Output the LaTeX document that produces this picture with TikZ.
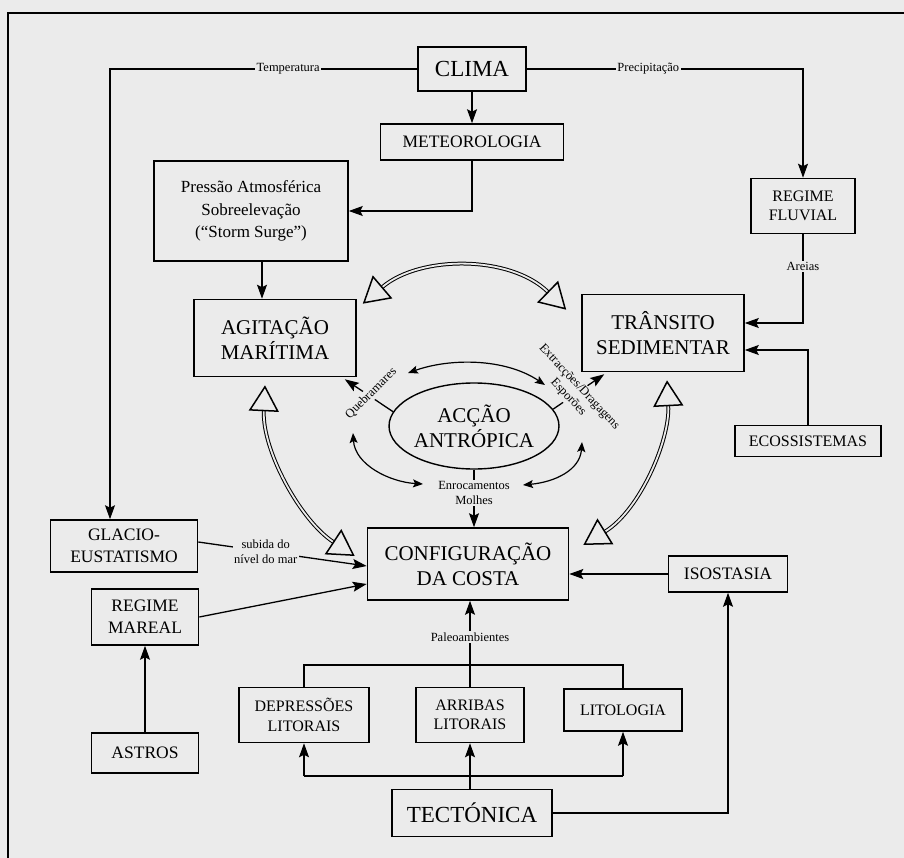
\documentclass[tikz,border=0pt]{standalone}
\usepackage{fontspec}
\setmainfont{Liberation Serif}
\usetikzlibrary{arrows.meta}
\usetikzlibrary{shapes.geometric}
\definecolor{paper}{gray}{0.92}

\begin{document}
\begin{tikzpicture} [x=1pt, y=-1pt, >={Stealth[length=14pt,width=10pt,inset=2.5pt]},
  box/.style={draw, line width=1.6pt, fill=paper, inner sep=0pt, align=center},
  fxl/.style={font=\fontsize{23}{26}\selectfont},
  fl/.style={font=\fontsize{21}{25}\selectfont},
  fm/.style={font=\fontsize{17.5}{22}\selectfont},
  fs/.style={font=\fontsize{16}{19.5}\selectfont},
  lbl/.style={fill=paper, inner sep=1.5pt, align=center, font=\fontsize{12.5}{15}\selectfont},
  conn/.style={line width=1.3pt},
  sm/.style={line width=1.2pt, >={Stealth[length=10pt,width=8pt,inset=2pt]}},
  hol/.style={double=paper, double distance=1.8pt, line width=1pt,
    arrows={Triangle[open,length=26pt,width=30pt,line width=1.5pt]-Triangle[open,length=26pt,width=30pt,line width=1.5pt]}}]
\useasboundingbox (0,0) rectangle (904,858);
\fill[paper] (0,0) rectangle (904,858);
\draw[line width=1.8pt] (8,858) -- (8,13) -- (904,13);

% boxes
\node[box, fxl, minimum width=108pt, minimum height=44pt] (clima) at (472,69) {CLIMA};
\node[box, fm, minimum width=183pt, minimum height=36pt] (meteo) at (472,142) {METEOROLOGIA};
\node[box, fm, minimum width=194pt, minimum height=100pt, font=\fontsize{17}{22.5}\selectfont] (pressao) at (251,211) {Pressão Atmosférica\\Sobreelevação\\(“Storm Surge”)};
\node[box, fs, minimum width=104pt, minimum height=55pt] (fluvial) at (803,206) {REGIME\\FLUVIAL};
\node[box, fl, minimum width=162pt, minimum height=77pt] (agitacao) at (275,338) {AGITAÇÃO\\MARÍTIMA};
\node[box, fl, minimum width=162pt, minimum height=77pt] (transito) at (663,333) {TRÂNSITO\\SEDIMENTAR};
\node[draw, ellipse, line width=1.4pt, fl, inner sep=0pt, align=center, minimum width=168pt, minimum height=86pt] (accao) at (474,426) {ACÇÃO\\ANTRÓPICA};
\node[box, fs, minimum width=146pt, minimum height=31pt] (ecoss) at (808,441) {ECOSSISTEMAS};
\node[box, fm, minimum width=147pt, minimum height=52pt] (glacio) at (124,546) {GLACIO-\\EUSTATISMO};
\node[box, fl, minimum width=201pt, minimum height=72pt] (config) at (468,564) {CONFIGURAÇÃO\\DA COSTA};
\node[box, fm, minimum width=119pt, minimum height=36pt] (isost) at (728,574) {ISOSTASIA};
\node[box, fm, minimum width=107pt, minimum height=56pt] (mareal) at (145,617) {REGIME\\MAREAL};
\node[box, fm, minimum width=107pt, minimum height=40pt] (astros) at (145,753) {ASTROS};
\node[box, fs, minimum width=130pt, minimum height=55pt] (depr) at (304,715) {DEPRESSÕES\\LITORAIS};
\node[box, fs, minimum width=108pt, minimum height=55pt] (arrib) at (470,715) {ARRIBAS\\LITORAIS};
\node[box, fs, minimum width=118pt, minimum height=42pt] (lito) at (623,710) {LITOLOGIA};
\node[box, fxl, minimum width=160pt, minimum height=47pt] (tecto) at (472,813) {TECTÓNICA};

% clima
\coordinate (tempx) at (110,69);
\draw[conn,->] (clima.west) -- node[lbl,pos=.42]{Temperatura} (clima.west -| tempx) -- (tempx |- glacio.north);
\draw[conn,->] (clima.east) -- node[lbl,pos=.44]{Precipitação} (clima.east -| fluvial.north) -- (fluvial.north);
\draw[conn,->] (clima) -- (meteo);
\draw[conn,->] (meteo.south) |- (pressao.east);
\draw[conn,->] ([xshift=11pt]pressao.south) -- ([xshift=11pt]pressao.south |- agitacao.north);

% transito sedimentar
\coordinate (tsa) at ([yshift=10pt]transito.east);
\coordinate (tsb) at ([yshift=-17pt]transito.east);
\draw[conn,->] (fluvial.south) -- node[lbl,pos=.36]{Areias} (fluvial.south |- tsa) -- (tsa);
\draw[conn,->] (ecoss.north) |- (tsb);

% configuracao
\draw[conn,->] ([yshift=4pt]glacio.east) -- node[lbl,pos=.4]{subida do\\nível do mar} ([yshift=-2pt]config.west);
\draw[conn,->] (mareal.east) -- ([yshift=-20pt]config.west);
\draw[conn,->] (isost.west) -- (isost.west -| config.east);
\draw[conn,->] (astros) -- (mareal);

\coordinate (bar) at (0,665);
\coordinate (tbar) at (0,776);
\draw[conn] (depr.north) -- (depr.north |- bar) -- (lito.north |- bar) -- (lito.north);
\draw[conn,->] (arrib.north) -- node[lbl,pos=.58]{Paleoambientes} (arrib.north |- config.south);
\draw[conn] (depr.south |- tbar) -- (lito.south |- tbar);
\foreach \n in {depr, lito} {
 \draw[conn,->] (\n.south |- tbar) -- (\n.south);
}
\draw[conn,->] (arrib.south |- tecto.north) -- (arrib.south);
\draw[conn,->] (tecto.east) -| (isost.south);

% accao antropica
\draw[conn,->] (accao.170) -- node[lbl,rotate=45,xshift=3pt]{Quebramares} ([xshift=-12pt,yshift=-2pt]agitacao.south east);
\draw[conn,->] (accao.12) -- node[lbl,rotate=-47,xshift=-3pt,yshift=-4pt]{Extracções/Dragagens\\Esporões} ([xshift=23pt,yshift=-2pt]transito.south west);
\draw[conn,->] (accao.south) -- node[lbl,pos=.4]{Enrocamentos\\Molhes} (accao.south |- config.north);

\coordinate (arcTL) at (408,373);
\coordinate (arcTR) at (545,385);
\coordinate (arcL) at (353,433);
\coordinate (arcBL) at (423,484);
\coordinate (arcR) at (582,442);
\coordinate (arcBR) at (523,485);
\draw[sm,<->] (arcTL) .. controls (450,358) and (505,358) .. (arcTR);
\draw[sm,<->] (arcL) .. controls (355,465) and (390,482) .. (arcBL);
\draw[sm,<->] (arcR) .. controls (580,470) and (555,482) .. (arcBR);

% interaccoes
\draw[hol] ([xshift=6pt,yshift=-5pt]agitacao.north east) .. controls (420,255) and (510,255) .. ([xshift=-15pt,yshift=-16pt]transito.north west);
\draw[hol] ([xshift=-10pt,yshift=-8pt]agitacao.south) .. controls (262,450) and (300,520) .. ([xshift=-12pt,yshift=8pt]config.west);
\draw[hol] ([xshift=4pt,yshift=-8pt]transito.south) .. controls (670,440) and (640,510) .. ([xshift=14pt,yshift=19pt]config.east);
\end{tikzpicture}
\end{document}
